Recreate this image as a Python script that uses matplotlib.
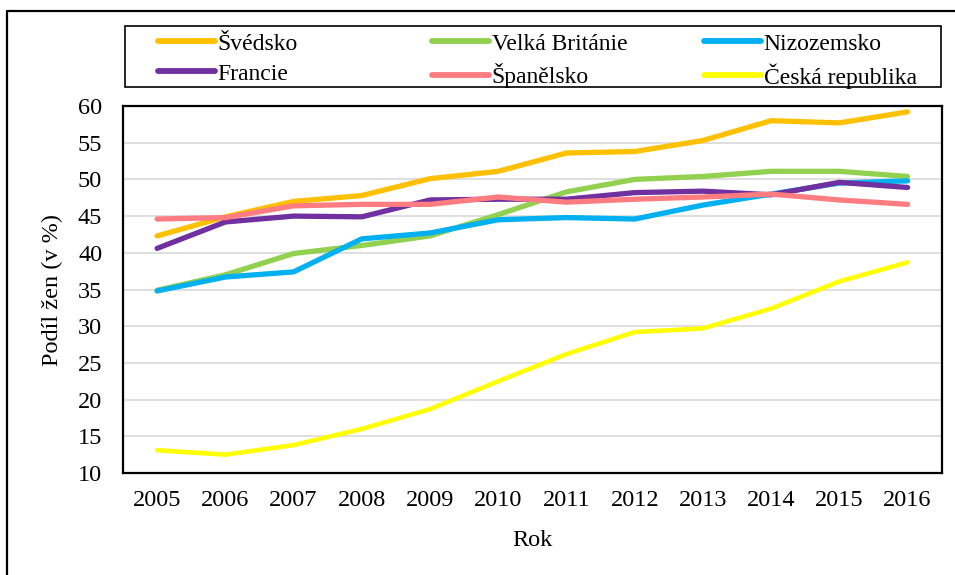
import matplotlib
matplotlib.use("Agg")
import matplotlib.pyplot as plt
from matplotlib.lines import Line2D
from matplotlib.patches import Rectangle
import numpy as np

plt.rcParams['font.family'] = ['Liberation Serif', 'DejaVu Serif']

years = ['2005', '2006', '2007', '2008', '2009', '2010', '2011', '2012', '2013', '2014', '2015', '2016']
svedsko = [42.3, 44.9, 47.0, 47.8, 50.1, 51.1, 53.6, 53.8, 55.3, 58.0, 57.7, 59.2]
velka_britanie = [34.9, 37.0, 39.9, 41.0, 42.3, 45.2, 48.3, 50.0, 50.4, 51.1, 51.1, 50.4]
nizozemsko = [34.8, 36.7, 37.4, 41.9, 42.7, 44.5, 44.8, 44.6, 46.5, 48.0, 49.5, 49.8]
francie = [40.6, 44.2, 45.0, 44.9, 47.2, 47.3, 47.3, 48.2, 48.4, 47.9, 49.6, 48.9]
spanelsko = [44.6, 44.8, 46.4, 46.6, 46.6, 47.6, 46.9, 47.3, 47.6, 48.0, 47.2, 46.6]
ceska_republika = [13.1, 12.5, 13.8, 16.0, 18.7, 22.5, 26.2, 29.2, 29.7, 32.4, 36.1, 38.7]

series = [
    ('Švédsko', svedsko, '#FFC000'),
    ('Velká Británie', velka_britanie, '#92D050'),
    ('Nizozemsko', nizozemsko, '#00B0F0'),
    ('Francie', francie, '#7030A0'),
    ('Španělsko', spanelsko, '#FF7C80'),
    ('Česká republika', ceska_republika, '#FFFF00'),
]
draw_order = ['Velká Británie', 'Nizozemsko', 'Švédsko', 'Francie', 'Španělsko', 'Česká republika']

W, H = 955, 575
fig = plt.figure(figsize=(W / 100, H / 100), dpi=100)
ax = fig.add_axes([123 / W, 1 - 473 / H, (941.7 - 123) / W, (473 - 106) / H])

x = np.arange(len(years))
handles = {}
lookup = {name: (vals, col) for name, vals, col in series}
for name in draw_order:
    vals, col = lookup[name]
    lw = 3.3 if name == 'Česká republika' else 3.8
    h, = ax.plot(x, vals, color=col, lw=lw, solid_capstyle='round',
                 solid_joinstyle='round', label=name, zorder=3)
    handles[name] = h

ax.set_xlim(-0.5, len(years) - 0.5)
ax.set_ylim(10, 60)
ax.set_yticks(np.arange(10, 61, 5))
ax.set_xticks(x)
ax.set_xticklabels(years)
ax.yaxis.grid(True, color='#D9D9D9', lw=1.2, zorder=0)
ax.set_axisbelow(True)
ax.tick_params(axis='both', length=0, labelsize=17.5)
ax.tick_params(axis='y', pad=15)
ax.tick_params(axis='x', pad=12)
for s in ax.spines.values():
    s.set_color('black')
    s.set_linewidth(1.6)

fig.text(52 / W, 1 - 290 / H, 'Podíl žen (v %)', rotation=90, ha='center', va='center', fontsize=17.5)
fig.text(532 / W, 1 - 541 / H, 'Rok', ha='center', va='center', fontsize=17.5)

# outer frame (left and top visible)
fig.add_artist(Line2D([7 / W, 7 / W, 1.0], [0.0, 1 - 11 / H, 1 - 11 / H],
                      transform=fig.transFigure, color='black', lw=1.6))

# legend box
fig.add_artist(Rectangle((125 / W, 1 - 87 / H), (941 - 125) / W, (87 - 26) / H,
                         transform=fig.transFigure, fill=False, ec='black', lw=1.2))

cols = [(158, ['Švédsko', 'Francie']),
        (432, ['Velká Británie', 'Španělsko']),
        (704, ['Nizozemsko', 'Česká republika'])]
for cx, names in cols:
    leg = fig.legend(handles=[handles[n] for n in names], labels=names,
                     loc='upper left', bbox_to_anchor=(cx / W, 1 - 33 / H),
                     bbox_transform=fig.transFigure, frameon=False,
                     borderpad=0, borderaxespad=0, fontsize=17,
                     handlelength=2.4, handletextpad=0.12, labelspacing=0.36)
    for lh in leg.get_lines():
        lh.set_linewidth(4.2)
        lh.set_solid_capstyle('round')

fig.savefig('out.png', dpi=100)
